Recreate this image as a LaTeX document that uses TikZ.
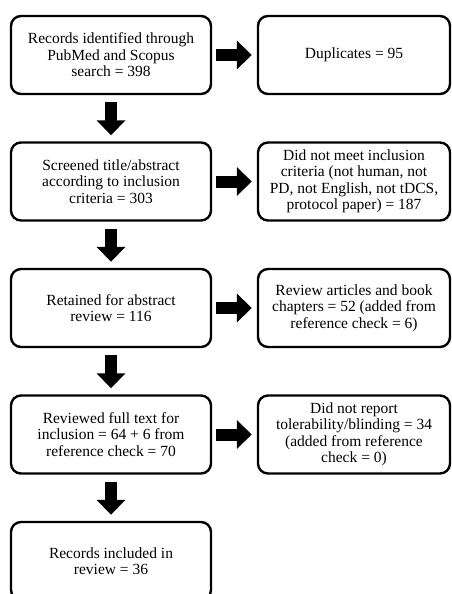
\documentclass[tikz,border=0pt]{standalone}
\usepackage{fontspec}
\setmainfont{Liberation Serif}
\usetikzlibrary{arrows.meta}

\begin{document}
\begin{tikzpicture}[node distance=126.5pt,
    stagebox/.style={draw, rectangle, rounded corners=10pt, line width=2.4pt, align=center, minimum height=78pt, minimum width=200pt, font=\fontsize{15.5}{16.5}\selectfont},
    outbox/.style={stagebox, minimum width=192pt},
    fat/.style={line width=12pt, -{Triangle[width=28pt,length=15pt]}}]
    \clip (0,0) rectangle (451pt,-594pt);

    % Stages of the search
    \node (rec) at (111pt,-55pt) [stagebox] {Records identified through\\PubMed and Scopus\\search = 398};
    \node (scr) [below of=rec, stagebox] {Screened title/abstract\\according to inclusion\\criteria = 303};
    \node (ret) [below of=scr, stagebox] {Retained for abstract\\review = 116};
    \node (full) [below of=ret, stagebox] {Reviewed full text for\\inclusion = 64 + 6 from\\reference check = 70};
    \node (incl) [below of=full, stagebox] {Records included in\\review = 36};

    % Records left out
    \node (dup) [right of=rec, node distance=243pt, outbox] {Duplicates = 95};
    \node (crit) [right of=scr, node distance=243pt, outbox] {Did not meet inclusion\\criteria (not human, not\\PD, not English, not tDCS,\\protocol paper) = 187};
    \node (rev) [right of=ret, node distance=243pt, outbox] {Review articles and book\\chapters = 52 (added from\\reference check = 6)};
    \node (tol) [right of=full, node distance=243pt, outbox] {Did not report\\tolerability/blinding = 34\\(added from reference\\check = 0)};

    % Arrows down
    \draw[fat, shorten <=7pt, shorten >=6pt] (rec) -- (scr);
    \draw[fat, shorten <=7pt, shorten >=6pt] (scr) -- (ret);
    \draw[fat, shorten <=7pt, shorten >=6pt] (ret) -- (full);
    \draw[fat, shorten <=7pt, shorten >=6pt] (full) -- (incl);

    % Arrows to the right
    \draw[fat, shorten <=4pt, shorten >=5pt] (rec) -- (dup);
    \draw[fat, shorten <=4pt, shorten >=5pt] (scr) -- (crit);
    \draw[fat, shorten <=4pt, shorten >=5pt] (ret) -- (rev);
    \draw[fat, shorten <=4pt, shorten >=5pt] (full) -- (tol);

\end{tikzpicture}
\end{document}
